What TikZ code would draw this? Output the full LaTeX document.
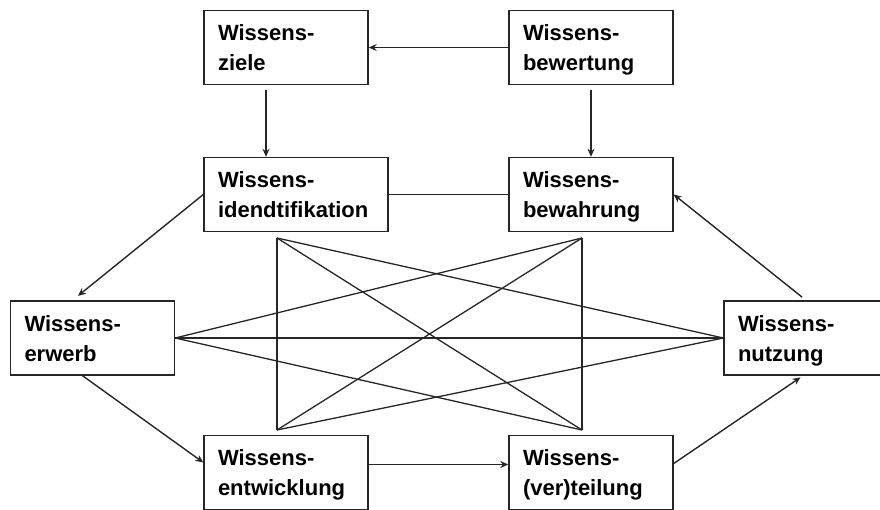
\documentclass[tikz,border=0pt]{standalone}
\usepackage{fontspec}
\setmainfont{Liberation Sans}
\usetikzlibrary{arrows.meta}

\begin{document}
\begin{tikzpicture}[x=1pt, y=-1pt,
  every node/.style={font=\bfseries\fontsize{22}{30}\selectfont},
  wbox/.style={draw=black!85, line width=1.4pt, fill=white, align=left,
    text width=136pt, inner xsep=14pt, inner ysep=0pt, minimum height=74pt,
    text height=22pt, text depth=36pt},
  arr/.style={-{Stealth[length=8pt, width=7pt]}, line width=1.4pt, draw=black!85},
  link/.style={line width=1.3pt, draw=black!85}]
  \useasboundingbox (0,0) rectangle (880,510);
  % Top row
  \node[wbox] (ziele) at (286,47.5) {Wissens-\\ziele};
  \node[wbox] (bewertung) at (591,47.5) {Wissens-\\bewertung};
  % Second row
  \node[wbox, text width=156pt] (ident) at (296,194.5) {Wissens-\\idendtifikation};
  \node[wbox] (bewahrung) at (591,194.5) {Wissens-\\bewahrung};
  % Middle row
  \node[wbox] (erwerb) at (92.5,338) {Wissens-\\erwerb};
  \node[wbox] (nutzung) at (806,338) {Wissens-\\nutzung};
  % Bottom row
  \node[wbox] (entw) at (286,472.5) {Wissens-\\entwicklung};
  \node[wbox] (vert) at (591,472.5) {Wissens-\\(ver)teilung};
  % Corners of the central frame
  \coordinate (TL) at (277,238);
  \coordinate (TR) at (582,238);
  \coordinate (BL) at (277,430);
  \coordinate (BR) at (582,430);
  % Arrows around the cycle
  \draw[arr] (bewertung.west) -- (ziele.east);
  \draw[arr, shorten <=5pt] ([xshift=-20pt]ziele.south) -- ([xshift=-30pt]ident.north);
  \draw[arr, shorten <=5pt] (bewertung.south) -- (bewahrung.north);
  \draw[link] (ident.east) -- (bewahrung.west);
  \draw[arr, shorten >=7pt] (ident.west) -- ([xshift=-20pt]erwerb.north);
  \draw[arr] ([xshift=-10pt]erwerb.south) -- ([yshift=10pt]entw.west);
  \draw[arr] ([yshift=8pt]entw.east) -- ([yshift=8pt]vert.west);
  \draw[arr, shorten >=3pt] ([yshift=9pt]vert.east) -- ([xshift=-3pt]nutzung.south);
  \draw[arr, shorten <=5pt] (nutzung.north) -- (bewahrung.east);
  % Cross links
  \foreach \a/\b in {TL/BL, TR/BR, TL/BR, TR/BL, erwerb.east/TR, erwerb.east/BR,
                     erwerb.east/nutzung.west, nutzung.west/TL, nutzung.west/BL}
    \draw[link] (\a) -- (\b);
\end{tikzpicture}
\end{document}
